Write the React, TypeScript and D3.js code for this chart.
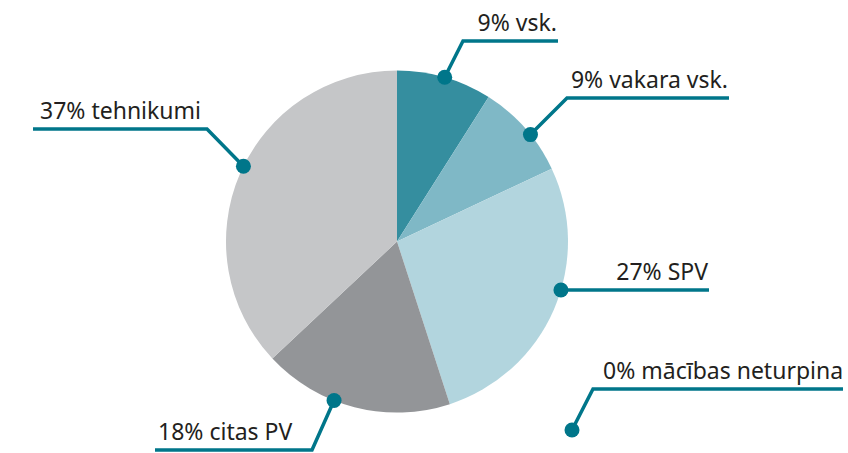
import { useEffect, useRef } from "react";
import * as d3 from "d3";

// shares in percent, clockwise from 12 o'clock
const categories = ["vsk.", "vakara vsk.", "SPV", "mācības neturpina", "citas PV", "tehnikumi"];
const shares = [9, 9, 27, 0, 18, 37];
const colors = ["#358e9f", "#7fb8c6", "#b2d5de", "#b2d5de", "#939598", "#c5c6c8"];

// label placement (annotation layout only)
const labelLayout = [
    { shift: 0, lineY: 41, elbowX: 463, endX: 558, anchor: "end", textX: 557 },
    { shift: 2.7, lineY: 98, elbowX: 567, endX: 729, anchor: "end", textX: 728 },
    { shift: -6.9, lineY: 290, elbowX: null, endX: 709, anchor: "end", textX: 708 },
    { shift: 0, lineY: 389, elbowX: 593, endX: 843, anchor: "start", textX: 603, free: [572, 430] },
    { shift: 7.2, lineY: 450, elbowX: 312, endX: 155, anchor: "start", textX: 158 },
    { shift: 2.7, lineY: 129, elbowX: 207, endX: 33, anchor: "start", textX: 40 },
];

const W = 848;
const H = 453;
const cx = 397;
const cy = 241.5;
const R = 171;
const lineColor = "#00768a";

export default function App() {
    const svgRef = useRef<SVGSVGElement>(null);

    useEffect(() => {
        const svg = d3.select(svgRef.current);
        svg.selectAll("*").remove();

        const pie = d3.pie<number>().sort(null).value(d => d);
        const arcs = pie(shares);
        const arc = d3.arc<d3.PieArcDatum<number>>().innerRadius(0).outerRadius(R);

        const g = svg.append("g").attr("transform", `translate(${cx},${cy})`);

        g.selectAll("path")
            .data(arcs)
            .join("path")
            .attr("d", arc)
            .attr("fill", (d, i) => colors[i]);

        // leader lines, dots and labels
        const lab = svg.append("g");
        arcs.forEach((a, i) => {
            const L = labelLayout[i];
            let dx: number, dy: number;
            if (L.free) {
                dx = L.free[0];
                dy = L.free[1];
            } else {
                const ang = (a.startAngle + a.endAngle) / 2 + (L.shift * Math.PI) / 180;
                dx = cx + R * Math.sin(ang);
                dy = cy - R * Math.cos(ang);
            }
            const pts: [number, number][] = [[dx, dy]];
            if (L.elbowX !== null) pts.push([L.elbowX, L.lineY]);
            else pts[0] = [dx, L.lineY];
            pts.push([L.endX, L.lineY]);

            lab.append("path")
                .attr("d", d3.line()(pts))
                .attr("fill", "none")
                .attr("stroke", lineColor)
                .attr("stroke-width", 3.5);

            lab.append("circle")
                .attr("cx", pts[0][0])
                .attr("cy", pts[0][1])
                .attr("r", 7.5)
                .attr("fill", lineColor);

            lab.append("text")
                .attr("x", L.textX)
                .attr("y", L.lineY - 10)
                .attr("text-anchor", L.anchor)
                .attr("font-family", "'Noto Sans', sans-serif")
                .attr("font-size", 23)
                .attr("fill", "#231f20")
                .text(`${shares[i]}% ${categories[i]}`);
        });
    }, []);

    return (
        <svg
            ref={svgRef}
            width={W}
            height={H}
            style={{ position: "absolute", left: 0, top: 0, background: "#fff" }}
        />
    );
}
